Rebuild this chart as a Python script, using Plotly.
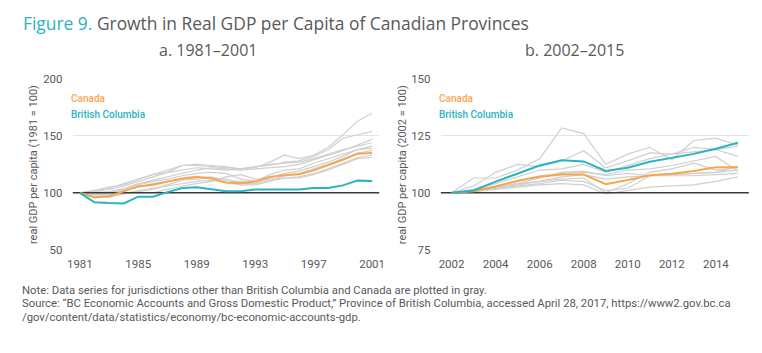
import plotly.graph_objects as go

# ---------- data ----------
years_a = list(range(1981, 2002))
canada_a = [100, 95.8, 97, 101.4, 105.6, 107, 110, 112.6, 114, 112.6, 109, 108.4, 110, 114, 115.5, 116.3, 119.7, 124, 129, 134.3, 135]
bc_a = [100, 91.6, 91, 90.7, 96.6, 96.6, 100.6, 104.2, 104.8, 103.4, 101.4, 101.4, 102.8, 102.8, 102.8, 102.8, 104.2, 104.2, 106.5, 110.7, 110.4]
others_a = [
    [100, 102, 104, 108, 112, 116, 120, 124, 124, 123, 122, 121, 122, 127, 133, 130, 133, 140, 151, 163, 170],
    [100, 101, 103, 106, 110, 114, 118, 124, 125, 124, 123, 121, 123, 124, 127, 128, 132, 138, 148, 151, 154],
    [100, 100, 101, 104, 108, 111, 114, 117, 120, 122, 121, 120, 121, 122, 123, 125, 129, 133, 137, 142, 147],
    [100, 99, 100, 103, 107, 110, 112, 115, 117, 118, 117, 112, 110, 116, 120, 121, 126, 130, 134, 138, 141],
    [100, 98, 99, 102, 105, 108, 110, 112, 113, 114, 111, 110, 108, 113, 117, 119, 123, 127, 132, 138, 139],
    [100, 97, 96, 99, 102, 104, 106, 108, 110, 111, 109, 107, 107, 110, 113, 114, 117, 121, 126, 131, 133],
    [100, 100, 100, 100, 100, 100, 103, 106, 108, 110, 114, 116, 112, 112, 113, 113, 116, 120, 125, 130, 131],
    [100, 98, 98, 99, 101, 103, 107, 111, 112, 113, 112, 108, 108, 111, 115, 117, 121, 125, 130, 135, 137],
    [100, 102, 105, 107, 112, 116, 118, 120, 122, 121, 120, 121, 123, 125, 126, 127, 130, 134, 138, 141, 144],
]

years_b = list(range(2002, 2016))
canada_b = [100, 100.7, 102.8, 105.3, 107, 108, 108, 103.8, 105.6, 107.7, 108.4, 109.6, 111.2, 111.2]
bc_b = [100, 101, 104.9, 108.4, 112, 114.3, 113.8, 109.6, 111, 113.6, 115.2, 117.1, 119.4, 122]
others_b = [
    [100, 106.5, 106.5, 110, 115, 128.5, 126, 112.5, 117, 120, 114.5, 123, 124, 121],
    [100, 103, 109, 112.5, 111.5, 114, 118.5, 111, 114, 117.5, 117, 120, 119, 116],
    [100, 101.5, 104, 107, 110, 110.5, 112.5, 109, 112, 115, 117, 118, 119, 120.5],
    [100, 101, 103, 105, 107.5, 108.5, 109, 108, 110, 110.5, 112, 114, 116, 109.5],
    [100, 100.5, 102.5, 104, 105, 106, 106.5, 100, 104, 109, 110.5, 113, 110, 111],
    [100, 100.5, 102, 103, 104, 105.5, 105, 101, 102, 107.5, 108, 108.5, 109, 111.5],
    [100, 100.5, 101.5, 102.5, 103.5, 104, 103.5, 99.5, 101, 102.5, 103, 103.5, 105, 107],
    [100, 101, 102.5, 104, 106.5, 109, 109.5, 107.5, 108.5, 107.5, 107.5, 107.5, 108, 108.5],
    [100, 100.5, 102, 103.5, 105, 107, 108, 106, 107, 107.5, 108, 108.5, 109, 110],
]

ticks_a = [1981, 1985, 1989, 1993, 1997, 2001]
ticks_b = [2002, 2004, 2006, 2008, 2010, 2012, 2014]
yticks_a = [50, 100, 150, 200]
yticks_b = [75, 100, 125, 150]

# ---------- style ----------
TEAL = "#2ab3c0"
ORANGE = "#f9a54e"
GRAY = "#cfcfcf"
TXT = "#58595b"
FONT = "Open Sans"
NFONT = "Roboto"

fig = go.Figure()

def add_panel(xs, canada, bc, others, xa, ya):
    for s in others:
        fig.add_trace(go.Scatter(x=xs, y=s, mode="lines", line=dict(color=GRAY, width=1.2),
                                 xaxis=xa, yaxis=ya, showlegend=False, hoverinfo="skip"))
    fig.add_trace(go.Scatter(x=[xs[0] - 0.5, xs[-1] + 0.5], y=[100, 100], mode="lines",
                             line=dict(color="#3a3a3a", width=1.5),
                             xaxis=xa, yaxis=ya, showlegend=False, hoverinfo="skip"))
    fig.add_trace(go.Scatter(x=xs, y=canada, mode="lines", line=dict(color=ORANGE, width=2),
                             xaxis=xa, yaxis=ya, showlegend=False))
    fig.add_trace(go.Scatter(x=xs, y=bc, mode="lines", line=dict(color=TEAL, width=2),
                             xaxis=xa, yaxis=ya, showlegend=False))

add_panel(years_a, canada_a, bc_a, others_a, "x", "y")
add_panel(years_b, canada_b, bc_b, others_b, "x2", "y2")

ydom = [1 - 252.7 / 353, 1 - 75 / 353]
axis_common = dict(showline=False, zeroline=False, tickfont=dict(family=NFONT, size=11.5, color=TXT),
                   ticks="", fixedrange=True)

fig.update_layout(
    width=762, height=353,
    margin=dict(l=0, r=0, t=0, b=0),
    paper_bgcolor="white", plot_bgcolor="white",
    font=dict(family=FONT, color=TXT),
    xaxis=dict(domain=[67.6 / 762, 379.4 / 762], range=[1980.5, 2001.5], tickvals=ticks_a,
               showgrid=False, anchor="y", ticklabelstandoff=6, **axis_common),
    yaxis=dict(domain=ydom, range=[50, 200], tickvals=yticks_a, showgrid=True,
               gridcolor="#e3e3e3", gridwidth=1, anchor="x", ticklabelstandoff=9, **axis_common),
    xaxis2=dict(domain=[441.5 / 762, 754.8 / 762], range=[2001.5, 2015.5], tickvals=ticks_b,
                showgrid=False, anchor="y2", ticklabelstandoff=6, **axis_common),
    yaxis2=dict(domain=ydom, range=[75, 150], tickvals=yticks_b, showgrid=True,
                gridcolor="#e3e3e3", gridwidth=1, anchor="x2", ticklabelstandoff=9, **axis_common),
)

def ann(text, x, y, size, color=TXT, xanchor="left", yanchor="middle", angle=0, family=FONT, weight=None):
    f = dict(family=family, size=size, color=color)
    if weight:
        f["weight"] = weight
    fig.add_annotation(text=text, x=x / 762, y=1 - y / 353, xref="paper", yref="paper",
                       showarrow=False, xanchor=xanchor, yanchor=yanchor, textangle=angle,
                       borderpad=0, font=f)

ann(f"<span style='color:{TEAL}'>Figure 9.</span> Growth in Real GDP per Capita of Canadian Provinces",
    16, 17, 17.4)
ann("a. 1981–2001", 205, 45, 16, xanchor="center")
ann("b. 2002–2015", 578, 45, 16, xanchor="center")
ann("Canada", 65, 95, 10, color=ORANGE, family=NFONT, weight=500)
ann("British Columbia", 65, 112, 10, color=TEAL, family=NFONT, weight=500)
ann("Canada", 439, 95, 10, color=ORANGE, family=NFONT, weight=500)
ann("British Columbia", 439, 112, 10, color=TEAL, family=NFONT, weight=500)
ann("real GDP per capita (1981 = 100)", 28, 164, 11, xanchor="center", angle=-90, family=NFONT)
ann("real GDP per capita (2002 = 100)", 403, 164, 11, xanchor="center", angle=-90, family=NFONT)

ann("Note: Data series for jurisdictions other than British Columbia and Canada are plotted in gray.",
    15, 295, 11.3, family=NFONT)
ann("Source: “BC Economic Accounts and Gross Domestic Product,” Province of British Columbia, accessed April 28, 2017, https://www2.gov.bc.ca",
    15, 309, 11.3, family=NFONT)
ann("/gov/content/data/statistics/economy/bc-economic-accounts-gdp.",
    15, 323, 11.3, family=NFONT)

fig.write_html("out.html")
